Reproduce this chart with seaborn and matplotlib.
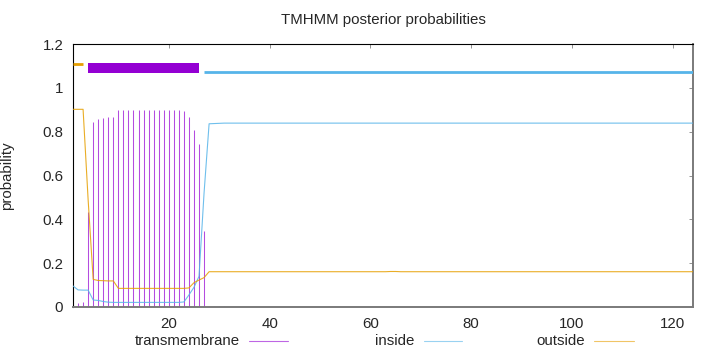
import numpy as np
import pandas as pd
import matplotlib
matplotlib.use("Agg")
import matplotlib.pyplot as plt
from matplotlib.lines import Line2D
import seaborn as sns

# ---------------- data ----------------
positions = list(range(1, 125))

transmembrane = [
    0.000, 0.017, 0.024, 0.435, 0.846, 0.856, 0.864, 0.865, 0.868, 0.899,
    0.899, 0.899, 0.899, 0.899, 0.899, 0.899, 0.899, 0.899, 0.899, 0.899,
    0.899, 0.899, 0.894, 0.865, 0.808, 0.742, 0.347, 0.004, 0.004, 0.003,
    0.003, 0.002, 0.000, 0.000, 0.000, 0.000, 0.000, 0.000, 0.000, 0.000,
    0.000, 0.000, 0.000, 0.000, 0.000, 0.000, 0.000, 0.000, 0.000, 0.000,
    0.000, 0.000, 0.000, 0.000, 0.000, 0.000, 0.000, 0.000, 0.000, 0.000,
    0.000, 0.000, 0.000, 0.000, 0.000, 0.000, 0.000, 0.000, 0.000, 0.000,
    0.000, 0.000, 0.000, 0.000, 0.000, 0.000, 0.000, 0.000, 0.000, 0.000,
    0.000, 0.000, 0.000, 0.000, 0.000, 0.000, 0.000, 0.000, 0.000, 0.000,
    0.000, 0.000, 0.000, 0.000, 0.000, 0.000, 0.000, 0.000, 0.000, 0.000,
    0.000, 0.000, 0.000, 0.000, 0.000, 0.000, 0.000, 0.000, 0.000, 0.000,
    0.000, 0.000, 0.000, 0.000, 0.000, 0.000, 0.000, 0.000, 0.000, 0.000,
    0.000, 0.000, 0.000, 0.000,
]

inside = [
    0.096, 0.078, 0.077, 0.077, 0.032, 0.030, 0.025, 0.022, 0.021, 0.021,
    0.021, 0.021, 0.021, 0.021, 0.021, 0.021, 0.021, 0.021, 0.021, 0.021,
    0.021, 0.021, 0.023, 0.055, 0.090, 0.140, 0.520, 0.836, 0.837, 0.838,
    0.839, 0.839, 0.839, 0.839, 0.839, 0.839, 0.839, 0.839, 0.839, 0.839,
    0.839, 0.839, 0.839, 0.839, 0.839, 0.839, 0.839, 0.839, 0.839, 0.839,
    0.839, 0.839, 0.839, 0.839, 0.839, 0.839, 0.839, 0.839, 0.839, 0.839,
    0.839, 0.839, 0.839, 0.839, 0.839, 0.839, 0.839, 0.839, 0.839, 0.839,
    0.839, 0.839, 0.839, 0.839, 0.839, 0.839, 0.839, 0.839, 0.839, 0.839,
    0.839, 0.839, 0.839, 0.839, 0.839, 0.839, 0.839, 0.839, 0.839, 0.839,
    0.839, 0.839, 0.839, 0.839, 0.839, 0.839, 0.839, 0.839, 0.839, 0.839,
    0.839, 0.839, 0.839, 0.839, 0.839, 0.839, 0.839, 0.839, 0.839, 0.839,
    0.839, 0.839, 0.839, 0.839, 0.839, 0.839, 0.839, 0.839, 0.839, 0.839,
    0.839, 0.839, 0.839, 0.839,
]

outside = [
    0.902, 0.902, 0.902, 0.490, 0.126, 0.121, 0.120, 0.119, 0.119, 0.085,
    0.085, 0.085, 0.085, 0.085, 0.085, 0.085, 0.085, 0.085, 0.085, 0.085,
    0.085, 0.085, 0.085, 0.087, 0.111, 0.123, 0.134, 0.161, 0.161, 0.161,
    0.161, 0.161, 0.161, 0.161, 0.161, 0.161, 0.161, 0.161, 0.161, 0.161,
    0.161, 0.161, 0.161, 0.161, 0.161, 0.161, 0.161, 0.161, 0.161, 0.161,
    0.161, 0.161, 0.161, 0.161, 0.161, 0.161, 0.161, 0.161, 0.161, 0.161,
    0.161, 0.161, 0.161, 0.162, 0.162, 0.161, 0.161, 0.161, 0.161, 0.161,
    0.161, 0.161, 0.161, 0.161, 0.161, 0.161, 0.161, 0.161, 0.161, 0.161,
    0.161, 0.161, 0.161, 0.161, 0.161, 0.161, 0.161, 0.161, 0.161, 0.161,
    0.161, 0.161, 0.161, 0.161, 0.161, 0.161, 0.161, 0.161, 0.161, 0.161,
    0.161, 0.161, 0.161, 0.161, 0.161, 0.161, 0.161, 0.161, 0.161, 0.161,
    0.161, 0.161, 0.161, 0.161, 0.161, 0.161, 0.161, 0.161, 0.161, 0.161,
    0.161, 0.161, 0.161, 0.161,
]

# predicted topology segments (state, start, end)
topo_states = ["outside", "TMhelix", "inside"]
topo_starts = [1, 4, 27]
topo_ends = [3, 26, 124]

x_ticks = [20, 40, 60, 80, 100, 120]
y_ticks = [0, 0.2, 0.4, 0.6, 0.8, 1.0, 1.2]
y_tick_labels = ["0", "0.2", "0.4", "0.6", "0.8", "1", "1.2"]

# ---------------- style ----------------
sns.set_style("white")
plt.rcParams["font.family"] = ["Liberation Sans", "DejaVu Sans"]
FS = 10.8

C_TM = "#9400d3"
C_IN = "#56b4e9"
C_OUT = "#e69f00"
THIN_ALPHA = 0.7

fig = plt.figure(figsize=(7.2, 3.52), dpi=100)
ax = fig.add_axes([73 / 720, 1 - 307 / 352, 620 / 720, 263 / 352])

# impulses for transmembrane
ax.vlines(positions, 0, transmembrane, color=C_TM, lw=0.75,
          alpha=THIN_ALPHA, zorder=2)

df = pd.DataFrame({"pos": positions, "inside": inside, "outside": outside})
long = df.melt(id_vars="pos", var_name="state", value_name="prob")
sns.lineplot(data=long, x="pos", y="prob", hue="state",
             palette={"inside": C_IN, "outside": C_OUT},
             estimator=None, lw=0.8, alpha=0.85, legend=False, ax=ax, zorder=3)

# topology bars on top
bar_style = {
    "outside": dict(y=1.11, color=C_OUT, lw=2.0),
    "TMhelix": dict(y=1.09, color=C_TM, lw=7.2),
    "inside": dict(y=1.07, color=C_IN, lw=2.0),
}
for st, s, e in zip(topo_states, topo_starts, topo_ends):
    b = bar_style[st]
    ax.hlines(b["y"], s, e, color=b["color"], lw=b["lw"], zorder=4)

ax.set_xlim(1, 124)
ax.set_ylim(0, 1.2)
ax.set_xticks(x_ticks)
ax.set_xticklabels([str(t) for t in x_ticks], fontsize=FS)
ax.set_yticks(y_ticks)
ax.set_yticklabels(y_tick_labels, fontsize=FS)
ax.tick_params(direction="in", length=3, width=0.6, color="#808080",
               top=True, right=True, pad=7)
ax.set_xlabel("")
ax.set_ylabel("probability", fontsize=FS)
ax.yaxis.set_label_coords(-0.095, 0.5)

for side in ["left", "top"]:
    ax.spines[side].set_color("black")
    ax.spines[side].set_linewidth(0.8)
for side in ["bottom", "right"]:
    ax.spines[side].set_color("#7a7a7a")
    ax.spines[side].set_linewidth(1.4)

fig.text(383 / 720, 1 - 20 / 352, "TMHMM posterior probabilities",
         ha="center", va="center", fontsize=FS)

# legend below (gnuplot-style: text right-justified, sample after)
leg_y = 1 - 341 / 352
entries = [("transmembrane", C_TM, 240, 249, 288),
           ("inside", C_IN, 414, 424, 462),
           ("outside", C_OUT, 585, 594, 634)]
for label, col, tx, x0, x1 in entries:
    fig.text(tx / 720, leg_y, label, ha="right", va="center", fontsize=FS)
    fig.add_artist(Line2D([x0 / 720, x1 / 720], [leg_y, leg_y],
                          color=col, lw=0.8, alpha=0.6,
                          transform=fig.transFigure))

fig.savefig("out.png", dpi=100)
